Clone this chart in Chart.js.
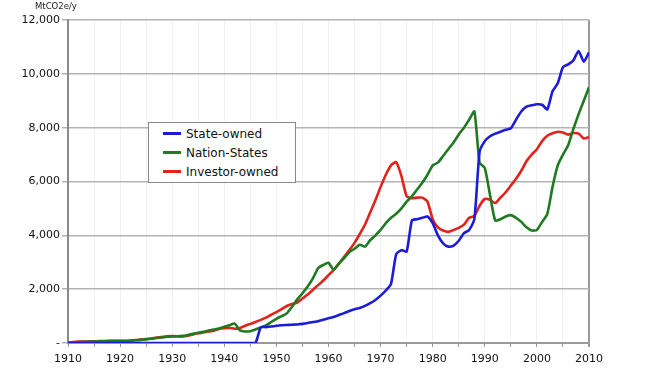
<!DOCTYPE html>
<html>
<head>
<meta charset="utf-8">
<script src="https://cdn.jsdelivr.net/npm/chart.js@4/dist/chart.umd.min.js"></script>
<style>
  html, body { margin:0; padding:0; background:#fff; }
  #wrap { position:relative; width:650px; height:379px; overflow:hidden; }
  #unit { position:absolute; left:35px; top:1px; font:8.5px "DejaVu Sans", sans-serif; color:#222; }
  #legend { position:absolute; left:148px; top:122px; width:146px; height:59px; border:1px solid #888; background:#fff;
            font:12px "DejaVu Sans", sans-serif; color:#111; }
  .item { position:absolute; left:14px; height:16px; line-height:16px; white-space:nowrap; }
  .item span.sw { display:inline-block; width:18px; height:3px; vertical-align:middle; margin-right:5px; position:relative; top:-1px; }
</style>
</head>
<body>
<div id="wrap">
  <canvas id="c" width="650" height="379"></canvas>
  <div id="unit">MtCO2e/y</div>
  <div id="legend"></div>
</div>
<script>
const years = [1910,1911,1912,1913,1914,1915,1916,1917,1918,1919,
1920,1921,1922,1923,1924,1925,1926,1927,1928,1929,
1930,1931,1932,1933,1934,1935,1936,1937,1938,1939,
1940,1941,1942,1943,1944,1945,1946,1947,1948,1949,
1950,1951,1952,1953,1954,1955,1956,1957,1958,1959,
1960,1961,1962,1963,1964,1965,1966,1967,1968,1969,
1970,1971,1972,1973,1974,1975,1976,1977,1978,1979,
1980,1981,1982,1983,1984,1985,1986,1987,1988,1989,
1990,1991,1992,1993,1994,1995,1996,1997,1998,1999,
2000,2001,2002,2003,2004,2005,2006,2007,2008,2009,2010];

const seriesNames = ['State-owned', 'Nation-States', 'Investor-owned'];

const stateOwned = [0,0,0,0,0,0,0,0,0,0,
0,0,0,0,0,0,0,0,0,0,
0,0,0,0,0,0,0,0,0,0,
0,0,0,0,0,0,0,580,590,610,
640,660,670,680,690,710,740,780,810,860,
920,970,1040,1110,1190,1250,1300,1380,1480,1600,
1760,1950,2200,3300,3450,3400,4550,4600,4650,4700,
4450,4000,3700,3580,3620,3800,4080,4200,4600,7100,
7500,7680,7780,7850,7920,7980,8300,8600,8780,8830,
8870,8850,8680,9350,9650,10250,10350,10500,10850,10450,10800];

const nationStates = [null,null,30,45,50,55,60,65,70,70,
75,75,85,100,115,135,160,185,205,230,
245,250,265,300,340,380,420,460,500,540,
600,660,720,470,430,440,500,580,650,780,
900,1000,1100,1350,1620,1850,2100,2400,2780,2900,
2980,2720,2950,3150,3380,3500,3650,3580,3820,4000,
4200,4450,4650,4800,5000,5250,5450,5700,5950,6250,
6600,6700,6950,7200,7450,7750,8000,8300,8600,6700,
6500,5500,4550,4600,4700,4750,4650,4500,4300,4180,
4200,4500,4800,5800,6600,7000,7350,7950,8500,9000,9500];

const investorOwned = [20,40,50,55,60,65,70,75,80,80,
85,85,95,110,125,150,170,200,225,250,
260,250,240,270,320,360,390,430,455,520,
545,560,530,560,640,710,780,860,940,1050,
1150,1260,1375,1450,1500,1650,1800,1970,2150,2320,
2520,2720,2950,3200,3450,3720,4050,4400,4850,5300,
5800,6250,6600,6720,6200,5450,5380,5400,5400,5250,
4600,4300,4180,4130,4200,4280,4400,4650,4720,5100,
5350,5320,5200,5400,5600,5850,6100,6400,6750,7000,
7200,7500,7700,7790,7850,7820,7740,7800,7780,7600,7650];

const yTicks = [0,2000,4000,6000,8000,10000,12000];
const xTickLabels = [1910,1920,1930,1940,1950,1960,1970,1980,1990,2000,2010];

const colors = ['#1c1cd8', '#1f7a22', '#e2231c'];
const seriesValues = [stateOwned, nationStates, investorOwned];

const datasets = seriesNames.map((name, i) => ({
  label: name,
  data: years.map((yr, j) => ({x: yr, y: seriesValues[i][j]})),
  borderColor: colors[i],
  backgroundColor: colors[i],
  borderWidth: 2.6,
  pointRadius: 0,
  tension: 0.2,
  fill: false,
  spanGaps: false,
  order: i
}));

const FONT = '"DejaVu Sans", sans-serif';

const chart = new Chart(document.getElementById('c'), {
  type: 'line',
  data: { datasets },
  options: {
    responsive: false,
    animation: false,
    layout: { padding: { top: 20, right: 61, left: 0, bottom: 0 } },
    plugins: { legend: { display: false }, tooltip: { enabled: false } },
    scales: {
      x: {
        type: 'linear',
        min: years[0], max: years[years.length - 1],
        afterFit: s => { s.height = 36; },
        afterBuildTicks: s => { s.ticks = years.filter(y => y % 5 === 0).map(v => ({value: v})); },
        ticks: {
          autoSkip: false, maxRotation: 0, padding: 6,
          color: '#111', font: { family: FONT, size: 11 },
          callback: v => xTickLabels.includes(v) ? String(v) : ''
        },
        grid: {
          color: ctx => (ctx.tick && ctx.tick.value === years[years.length - 1]) ? '#9a9a9a' : '#f1f1f1',
          lineWidth: ctx => (ctx.tick && ctx.tick.value === years[years.length - 1]) ? 2 : 1,
          tickColor: '#999', tickLength: 4, drawTicks: true
        },
        border: { color: '#999', width: 2 }
      },
      y: {
        min: 0, max: 12000,
        afterFit: s => { s.width = 68; },
        afterBuildTicks: s => { s.ticks = yTicks.map(v => ({value: v})); },
        ticks: {
          padding: 2, color: '#111', font: { family: FONT, size: 11 },
          callback: v => v === 0 ? '-' : v.toLocaleString('en-US')
        },
        grid: { color: '#b3b3b3', lineWidth: 1.5, tickColor: '#b3b3b3', tickLength: 6 },
        border: { color: '#8a8a8a', width: 2 }
      }
    }
  }
});

// HTML legend built from the chart's datasets
const lg = document.getElementById('legend');
chart.data.datasets.forEach((ds, i) => {
  const d = document.createElement('div');
  d.className = 'item';
  d.style.top = (3 + i * 19) + 'px';
  d.innerHTML = '<span class="sw" style="background:' + ds.borderColor + '"></span>' + ds.label;
  lg.appendChild(d);
});
</script>
</body>
</html>
